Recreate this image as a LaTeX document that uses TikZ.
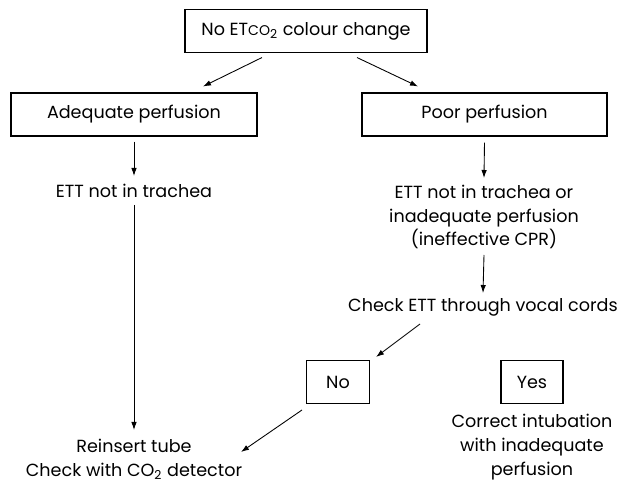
\documentclass[tikz,border=0pt]{standalone}
\usepackage{fontspec}
\setmainfont{Poppins}
\usetikzlibrary{arrows.meta}
\begin{document}
\begin{tikzpicture}[
    box/.style={draw, line width=0.6pt, minimum height=0.86cm, inner sep=0pt, font=\fontsize{10}{13.5}\selectfont},
    txt/.style={align=center, inner sep=0pt, font=\fontsize{10}{13.5}\selectfont},
    flecha/.style={-{Latex[length=1.6mm,width=1.1mm]}, line width=0.5pt}
]
    \useasboundingbox (0,0) rectangle (12.4,9.72);
    % Cajas
    \node[box, minimum width=4.84cm] (top) at (6.12,9.10) {No ET{\footnotesize CO}\textsubscript{2} colour change};
    \node[box, minimum width=4.92cm] (adeq) at (2.68,7.43) {Adequate perfusion};
    \node[box, minimum width=4.90cm] (poor) at (9.69,7.43) {Poor perfusion};
    \node[box, minimum width=1.26cm] (no) at (6.76,2.08) {No};
    \node[box, minimum width=1.24cm] (yes) at (10.64,2.08) {Yes};
    % Textos
    \node[txt] (ett) at (2.68,5.90) {ETT not in trachea};
    \node[txt] (ptext) at (9.68,5.38) {ETT not in trachea or\\inadequate perfusion\\(ineffective CPR)};
    \node[txt] (check) at (9.66,3.58) {Check ETT through vocal cords};
    \node[txt] (reinsert) at (2.68,0.54) {Reinsert tube\\Check with CO\textsubscript{2} detector};
    \node[txt] (correct) at (10.64,0.78) {Correct intubation\\with inadequate\\perfusion};
    % Flechas
    \draw[flecha] ([xshift=-0.88cm,yshift=-0.09cm]top.south) -- ([xshift=1.38cm,yshift=0.12cm]adeq.north);
    \draw[flecha] ([xshift=1.02cm,yshift=-0.09cm]top.south) -- ([xshift=-1.33cm,yshift=0.12cm]poor.north);
    \draw[flecha] ([yshift=-0.1cm]adeq.south) -- ([yshift=0.30cm]ett.center);
    \draw[flecha] ([yshift=-0.28cm]ett.center) -- ([yshift=0.58cm]reinsert.center);
    \draw[flecha] ([yshift=-0.12cm]poor.south) -- ([yshift=0.78cm]ptext.center);
    \draw[flecha] ([yshift=-0.76cm]ptext.center) -- ([yshift=0.28cm]check.center);
    \draw[flecha] ([xshift=-1.26cm,yshift=-0.34cm]check.center) -- ([xshift=0.76cm,yshift=0.50cm]no.center);
    \draw[flecha] ([xshift=-0.72cm,yshift=-0.56cm]no.center) -- ([xshift=2.14cm,yshift=0.14cm]reinsert.center);
\end{tikzpicture}
\end{document}
